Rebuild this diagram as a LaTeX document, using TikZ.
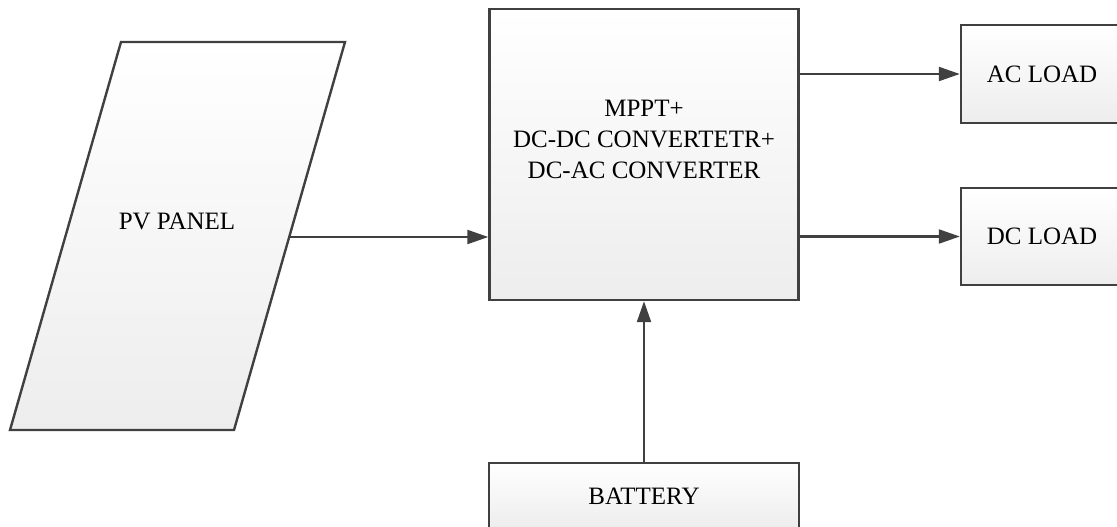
\documentclass[tikz,border=0pt]{standalone}
\usepackage{fontspec}
\setmainfont{Liberation Serif}
\usepackage{tikz}
\usetikzlibrary{arrows.meta,calc,positioning}

\colorlet{edgegray}{black!75}

\begin{document}
\begin{tikzpicture}[x=1pt,y=-1pt,
  blockbox/.style={draw=edgegray,line width=2.4pt,top color=white,bottom color=black!7,
                   minimum width=#1,font=\fontsize{25}{31}\selectfont,align=center},
  flow/.style={draw=edgegray,line width=2.2pt,-{Triangle[length=21pt,width=14pt]}}]
\useasboundingbox (0,0) rectangle (1117,527);
\clip (0,0) rectangle (1117,527);
% PV panel drawn as a slanted sheet
\draw[edgegray,line width=2.4pt,top color=white,bottom color=black!7]
  (121,42) -- (345,42) -- (234,430) -- (10,430) -- cycle;
\node[font=\fontsize{25}{31}\selectfont] (pv) at (177,221) {PV PANEL};
\coordinate (pvout) at (289.4,237);
% blocks
\node[blockbox=309pt,minimum height=291pt] (ctrl) at (644,154.5) {};
\node[font=\fontsize{25}{31}\selectfont,align=center,yshift=15pt] (ctrltxt) at (ctrl)
  {MPPT+\\DC-DC CONVERTETR+\\DC-AC CONVERTER};
\node[blockbox=176pt,minimum height=98pt] (acl) at (1049,74) {\hspace*{-14pt}AC LOAD};
\node[blockbox=176pt,minimum height=97pt] (dcl) at (1049,236.5) {\hspace*{-14pt}DC LOAD};
\node[blockbox=310pt,minimum height=66pt] (bat) at (644,496) {BATTERY};
% connectors
\draw[flow] (pvout) -- (pvout -| ctrl.west);
\draw[flow] (ctrl.east |- acl) -- (acl.west);
\draw[flow] (ctrl.east |- dcl) -- (dcl.west);
\draw[flow] (bat.north) -- (ctrl.south);
\end{tikzpicture}
\end{document}
